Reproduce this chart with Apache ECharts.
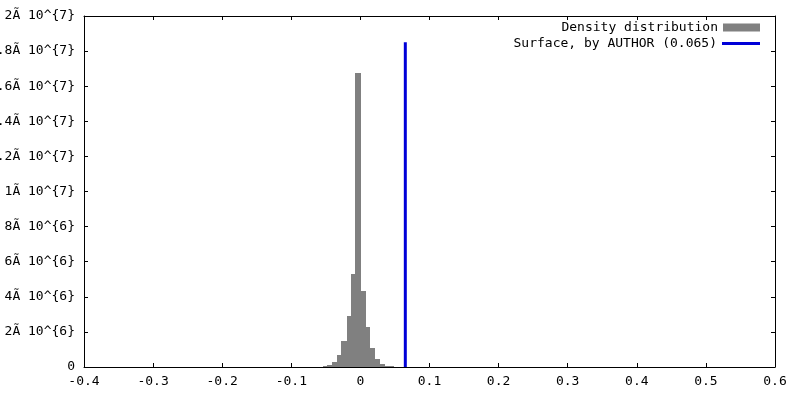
<!DOCTYPE html>
<html>
<head>
<meta charset="utf-8">
<script src="https://cdn.jsdelivr.net/npm/echarts@6/dist/echarts.min.js"></script>
<style>
html,body{margin:0;padding:0;background:#fff;}
#chart{width:800px;height:400px;}
</style>
</head>
<body>
<div id="chart"></div>
<script>
// Histogram bin edges (x data units)
const binEdges = [-0.054, -0.048, -0.041, -0.034, -0.028, -0.020, -0.014, -0.008, 0.001, 0.008, 0.014, 0.021, 0.028, 0.035, 0.041, 0.048];
// Density per bin
const densityValues = [0.06e6, 0.12e6, 0.28e6, 0.67e6, 1.48e6, 2.9e6, 5.32e6, 16.77e6, 4.35e6, 2.3e6, 1.07e6, 0.44e6, 0.15e6, 0.06e6, 0.05e6];
// Vertical reference line
const surfaceX = 0.065;
const surfaceTop = 18.5e6;
// Tick labels
const yTickLabels = ['0', '2Ã 10^{6}', '4Ã 10^{6}', '6Ã 10^{6}', '8Ã 10^{6}', '1Ã 10^{7}', '1.2Ã 10^{7}', '1.4Ã 10^{7}', '1.6Ã 10^{7}', '1.8Ã 10^{7}', '2Ã 10^{7}'];
const seriesNames = ['Density distribution', 'Surface, by AUTHOR (0.065)'];

const histData = densityValues.map((v, i) => [binEdges[i], binEdges[i + 1], v]);

const font = 'DejaVu Sans Mono';
const axisCommon = {
  axisLine: {show: true, onZero: false, lineStyle: {color: '#000', width: 1}},
  axisTick: {show: true, inside: true, length: 4, lineStyle: {color: '#000'}},
  splitLine: {show: false}
};

const chart = echarts.init(document.getElementById('chart'), null, {renderer: 'canvas'});
chart.setOption({
  animation: false,
  backgroundColor: '#fff',
  grid: {left: 84, right: 25, top: 16, bottom: 33, containLabel: false, outerBoundsMode: 'none'},
  xAxis: [
    Object.assign({type: 'value', min: -0.4, max: 0.6, interval: 0.1, position: 'bottom',
      axisLabel: {color: '#000', fontFamily: font, fontSize: 13, margin: 8,
        formatter: v => (Math.round(v * 10) / 10).toString()}}, axisCommon),
    Object.assign({type: 'value', min: -0.4, max: 0.6, interval: 0.1, position: 'top',
      axisLabel: {show: false}}, axisCommon)
  ],
  yAxis: [
    Object.assign({type: 'value', min: 0, max: 2e7, interval: 2e6, position: 'left',
      axisLabel: {color: '#000', fontFamily: font, fontSize: 13, margin: 9,
        formatter: v => yTickLabels[Math.round(v / 2e6)]}}, axisCommon),
    Object.assign({type: 'value', min: 0, max: 2e7, interval: 2e6, position: 'right',
      axisLabel: {show: false}}, axisCommon)
  ],
  legend: [
    {data: [seriesNames[0]], right: 40, top: 21, padding: 0, orient: 'vertical', align: 'right',
      icon: 'rect', itemWidth: 37, itemHeight: 8, selectedMode: false,
      textStyle: {color: '#000', fontFamily: font, fontSize: 13}},
    {data: [seriesNames[1]], right: 40, top: 37, padding: 0, orient: 'vertical', align: 'right',
      icon: 'rect', itemWidth: 38, itemHeight: 3, selectedMode: false,
      textStyle: {color: '#000', fontFamily: font, fontSize: 13}}
  ],
  series: [
    {
      name: seriesNames[0],
      type: 'custom',
      xAxisIndex: 0, yAxisIndex: 0,
      itemStyle: {color: '#808080'},
      data: histData,
      renderItem: function (params, api) {
        const p0 = api.coord([api.value(0), api.value(2)]);
        const p1 = api.coord([api.value(1), 0]);
        const x0 = Math.round(p0[0]);
        const x1 = Math.round(p1[0]);
        const y0 = Math.round(p0[1]);
        const y1 = Math.round(p1[1]);
        return {
          type: 'rect',
          shape: {x: x0, y: y0, width: x1 - x0, height: y1 - y0},
          style: {fill: '#808080'}
        };
      },
      encode: {x: [0, 1], y: 2}
    },
    {
      name: seriesNames[1],
      type: 'line',
      xAxisIndex: 0, yAxisIndex: 0,
      symbol: 'none',
      color: '#0000d8',
      lineStyle: {color: '#0000d8', width: 3},
      data: [[surfaceX, 0], [surfaceX, surfaceTop]]
    }
  ]
});
</script>
</body>
</html>
